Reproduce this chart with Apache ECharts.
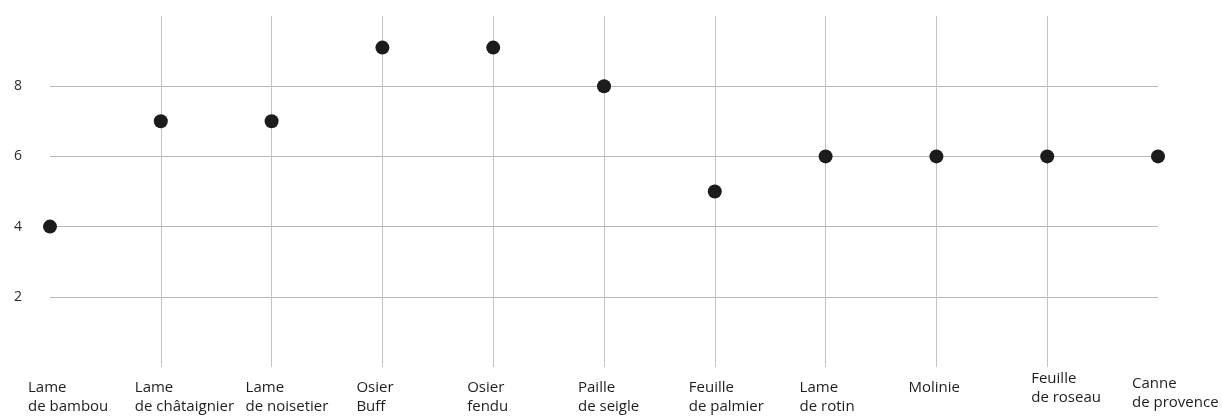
<!DOCTYPE html>
<html>
<head>
<meta charset="utf-8">
<script src="https://cdn.jsdelivr.net/npm/echarts@6/dist/echarts.min.js"></script>
<style>
html,body{margin:0;padding:0;background:#fff;}
#c{width:1222px;height:416px;}
</style>
</head>
<body>
<div id="c"></div>
<script>
const categories = [
  'Lame\nde bambou', 'Lame\nde châtaignier', 'Lame\nde noisetier', 'Osier\nBuff',
  'Osier\nfendu', 'Paille\nde seigle', 'Feuille\nde palmier', 'Lame\nde rotin',
  'Molinie', 'Feuille\nde roseau', 'Canne\nde provence'
];
const values = [4, 7, 7, 9.1, 9.1, 8, 5, 6, 6, 6, 6];
const yTicks = [2, 4, 6, 8];

// per-label nudges (style only)
const labelPad = {
  'Molinie': [0, 0, 0, -28],
  'Feuille\nde roseau': [-9, 0, 0, -16],
  'Canne\nde provence': [-4, 0, 0, -26]
};
const xData = categories.map((c, i) => ({
  value: c,
  textStyle: {
    align: 'left',
    verticalAlign: 'top',
    padding: labelPad[c] || (i === 0 ? [0, 0, 0, -22] : [0, 0, 0, -26])
  }
}));

const chart = echarts.init(document.getElementById('c'), null, { renderer: 'canvas' });
chart.setOption({
  animation: false,
  backgroundColor: '#fff',
  grid: { left: 50, right: 64, top: 16, bottom: 48, containLabel: false },
  xAxis: {
    type: 'category',
    data: xData,
    boundaryGap: false,
    axisLine: { show: false },
    axisTick: { show: false },
    axisLabel: {
      interval: 0,
      align: 'left',
      verticalAlign: 'top',
      margin: 11,
      fontFamily: 'Open Sans',
      fontSize: 15,
      lineHeight: 19,
      color: '#1e1e1e'
    },
    splitLine: {
      show: true,
      showMinLine: false,
      showMaxLine: false,
      interval: 0,
      lineStyle: { color: '#c4c4c4', width: 1 }
    }
  },
  yAxis: {
    type: 'value',
    min: 0,
    max: 10,
    interval: 2,
    axisLine: { show: false },
    axisTick: { show: false },
    axisLabel: {
      margin: 28,
      fontFamily: 'Open Sans',
      fontSize: 14,
      color: '#2a2a2a',
      formatter: v => (yTicks.indexOf(v) >= 0 ? String(v) : '')
    },
    splitLine: {
      show: true,
      showMinLine: false,
      showMaxLine: false,
      lineStyle: { color: '#b8b8b8', width: 1 }
    }
  },
  series: [{
    type: 'scatter',
    data: values,
    symbol: 'circle',
    symbolSize: 14,
    itemStyle: { color: '#1c1c1c', opacity: 1 },
    z: 5
  }]
});
</script>
</body>
</html>
